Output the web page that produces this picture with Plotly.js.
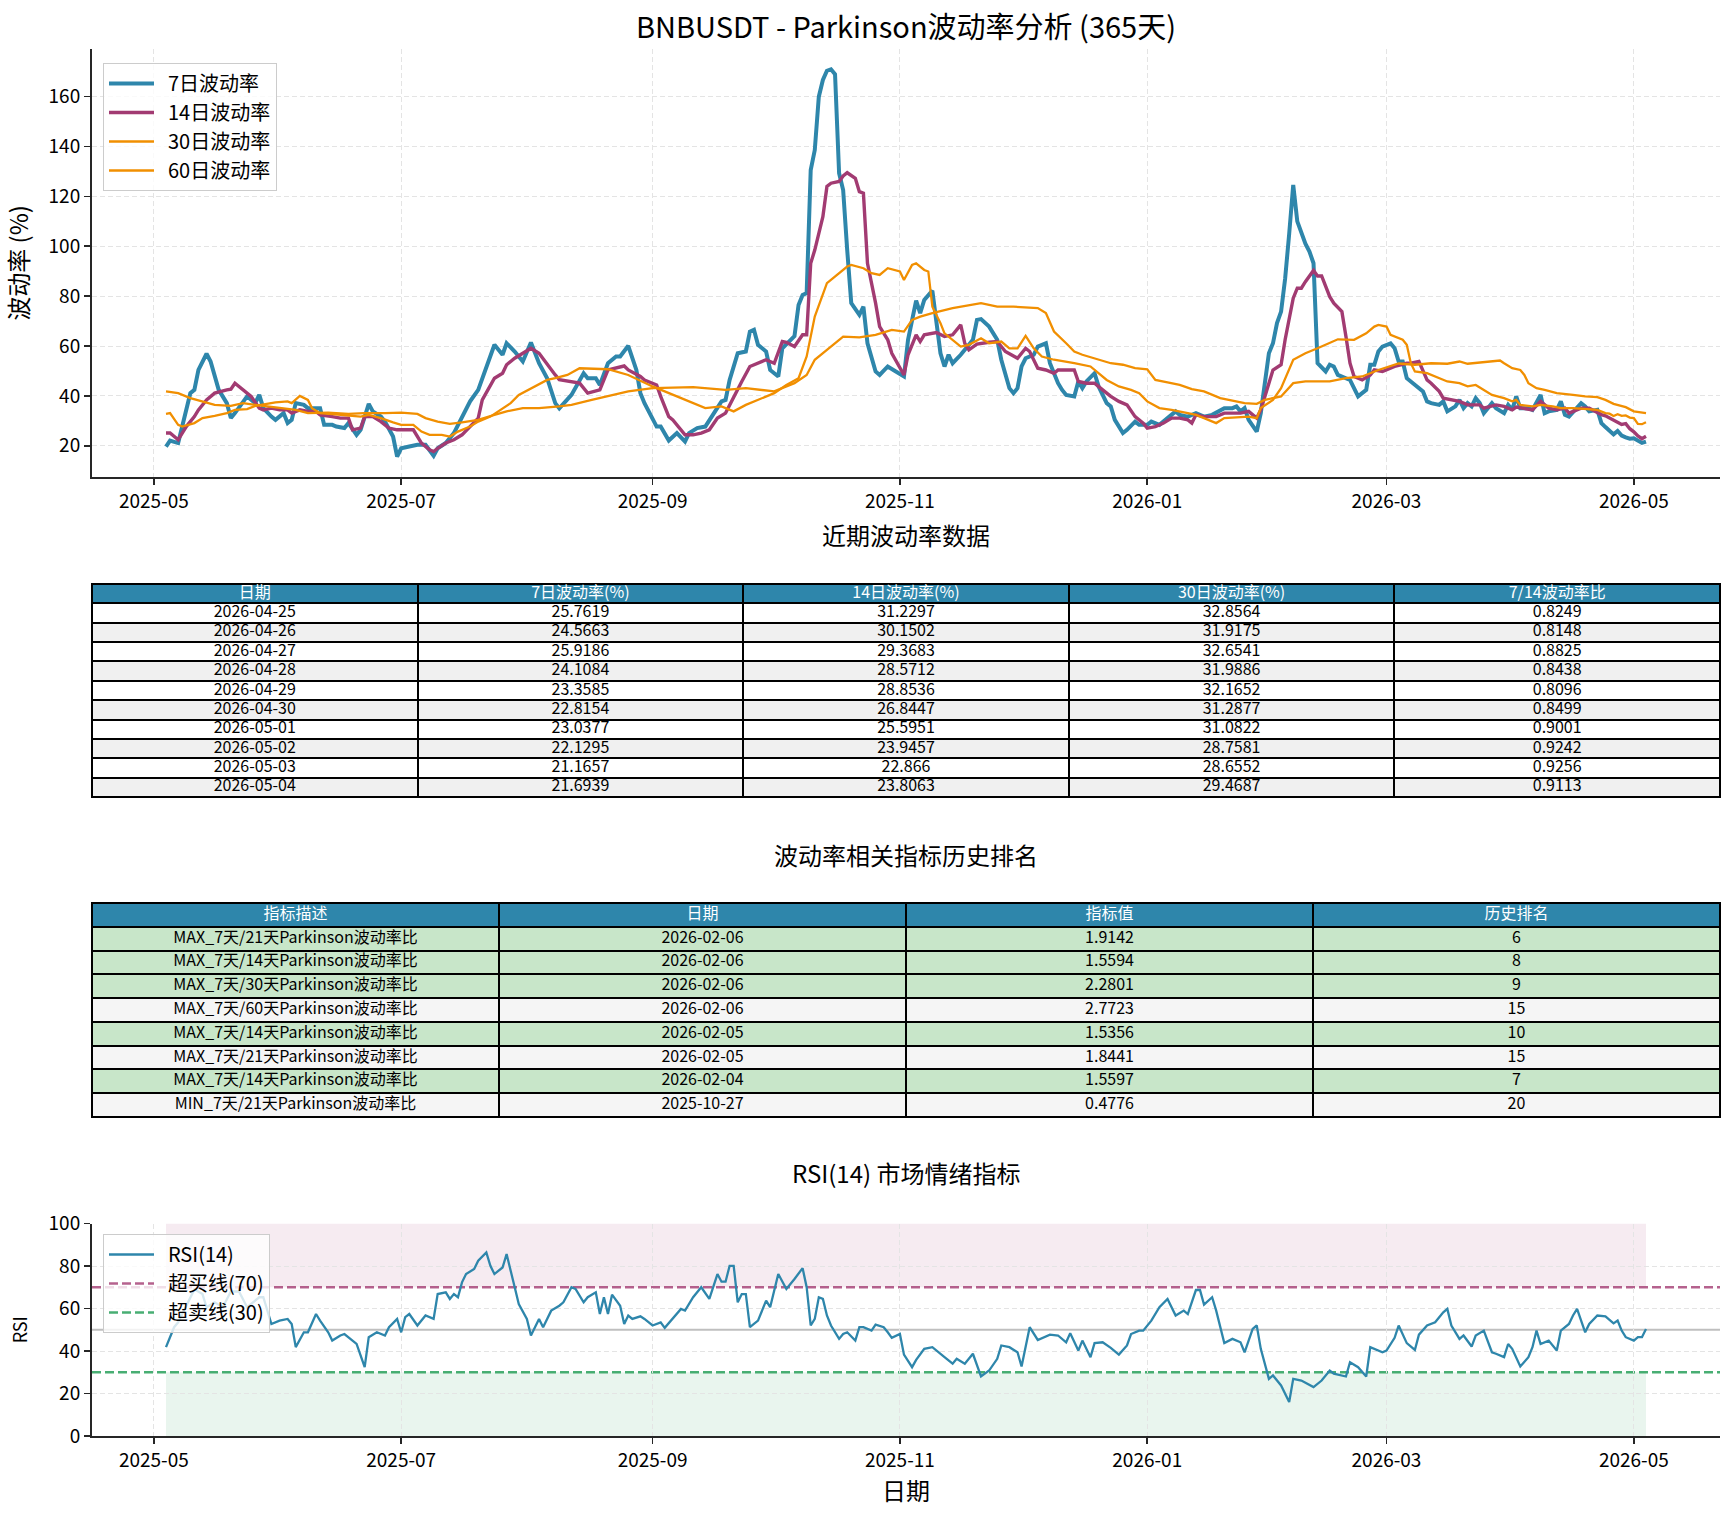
<!DOCTYPE html>
<html><head><meta charset="utf-8">
<script src="https://cdn.plot.ly/plotly-3.0.1.min.js"></script>
<style>html,body{margin:0;padding:0;background:#fff}#chart{width:1734px;height:1515px}</style>
</head><body><div id="chart"></div>
<script>
// ---------- data (day offsets are days after 2025-05-01) ----------
const vol7Day = [3,4,6,9,10,11,13,14,16,18,19,20,23,25,26,27,29,30,32,33,34,35,37,38,40,41,42,44,45,47,48,50,51,53,54,56,57,59,60,61,63,65,67,69,70,72,74,76,78,80,82,84,86,87,89,91,93,95,97,99,100,103,106,107,109,110,112,114,115,117,119,120,121,124,125,127,129,131,132,134,136,138,140,141,142,144,146,147,148,149,151,152,154,155,157,158,159,160,161,162,163,164,165,166,167,168,169,170,171,172,174,175,176,178,179,181,183,185,186,188,189,190,192,193,194,195,196,197,199,202,203,204,206,208,209,211,212,213,214,215,217,218,220,221,223,224,225,227,228,229,230,232,233,235,236,237,239,240,242,243,245,246,248,250,252,253,255,257,259,261,263,264,266,267,268,269,270,272,273,275,276,277,278,279,280,281,282,283,284,285,286,287,289,290,291,292,293,295,297,299,300,301,302,303,305,306,307,308,309,311,313,314,315,317,318,319,321,322,323,324,325,326,327,328,330,331,333,334,335,336,337,339,340,342,343,344,346,347,348,349,352,353,354,356,357,358,359,360,361,362,363,364,365,366,367,368];
const vol7Val = [19.7,22.1,21.1,41.1,42.4,50.4,56.9,53.8,42.4,37.1,31.1,33.1,39.8,37.1,40.4,35.1,31.7,30.4,33.1,29.1,30.4,37.1,36.4,35.1,35.1,35.1,28.4,28.4,27.7,27.1,29.1,24.4,26.4,36.8,33.8,31.7,29.7,23.7,15.7,19.0,19.7,20.4,20.4,16.0,19.0,21.1,25.1,31.1,37.8,42.4,51.8,60.5,56.5,61.1,57.8,53.8,61.4,53.1,47.1,37.1,35.0,40.4,49.1,47.1,47.1,44.4,53.1,55.8,55.8,60.1,50.4,41.1,37.1,27.7,27.7,22.1,25.1,21.7,25.1,27.1,27.7,33.1,37.8,38.4,46.4,57.1,57.8,65.8,66.5,60.5,57.8,50.4,47.8,59.1,62.5,64.0,76.5,80.5,81.2,130.6,138.6,160.0,166.7,170.4,171.0,169.0,129.3,122.6,98.5,77.2,72.5,75.8,61.1,49.8,48.4,51.8,49.8,47.8,62.5,78.2,73.2,78.5,82.2,69.2,57.1,51.8,56.5,53.1,56.5,62.5,70.5,70.8,67.8,62.5,54.5,43.1,41.1,43.1,51.8,55.1,56.5,59.8,61.1,53.1,45.1,42.4,40.4,39.8,45.8,43.1,45.8,49.1,43.8,37.1,35.8,30.4,25.1,26.4,29.7,28.4,28.4,29.7,28.4,31.1,33.8,32.4,31.7,33.1,31.7,32.4,34.4,35.1,35.1,35.8,33.8,35.1,30.4,25.7,33.1,57.1,61.1,69.2,73.8,87.0,105.0,124.6,110.0,105.0,101.0,97.9,93.2,53.1,49.8,52.5,51.8,48.4,47.8,46.4,39.8,42.4,52.5,52.5,57.8,59.8,61.1,59.1,53.8,53.8,47.1,44.4,41.8,37.8,37.1,36.4,37.8,33.8,35.8,38.4,35.1,37.1,35.8,39.1,37.1,33.1,37.1,35.1,33.1,36.4,34.4,39.8,35.1,35.1,34.4,40.4,33.1,33.8,34.4,37.8,32.4,31.7,37.1,35.8,33.8,34.4,29.1,27.5,25.7619,24.5663,25.9186,24.1084,23.3585,22.8154,23.0377,22.1295,21.1657,21.6939];

const vol14Day = [3,4,6,8,10,11,13,15,18,19,20,22,24,26,27,29,31,33,34,36,38,40,41,44,46,48,49,51,52,54,56,58,60,62,64,66,68,69,70,72,74,76,78,80,81,83,84,86,87,89,91,93,95,97,99,100,103,105,107,110,112,114,116,117,120,121,124,125,127,128,131,133,135,137,139,141,143,145,147,149,151,153,155,156,158,160,161,162,163,165,166,167,169,170,171,173,174,175,176,178,179,181,182,185,186,188,189,190,193,195,197,199,200,201,203,206,208,210,213,215,216,218,220,222,223,227,228,230,232,234,236,238,240,242,244,245,247,249,251,253,255,256,257,259,262,264,266,268,270,272,273,275,276,278,279,281,282,283,284,286,287,288,290,291,293,294,295,296,298,300,301,303,305,306,309,310,312,314,315,317,318,320,322,324,327,328,331,333,335,336,340,342,344,346,348,349,352,354,356,357,358,359,360,361,362,363,364,365,366,367,368];
const vol14Val = [25.1,25.1,22.4,27.7,31.7,34.4,38.4,41.1,42.4,42.7,45.1,42.4,39.8,35.1,34.4,35.1,34.4,34.4,33.1,34.4,33.8,33.8,32.4,31.7,31.1,31.1,26.4,27.1,31.7,31.7,29.7,27.1,26.4,26.4,26.4,21.1,18.4,17.7,19.0,21.1,22.4,24.4,27.7,31.1,38.4,43.8,47.1,49.1,52.5,55.1,57.1,59.1,57.1,52.5,48.4,46.5,45.8,45.1,41.1,42.4,50.4,51.1,52.0,50.4,47.8,46.4,44.4,39.8,31.7,30.4,24.4,24.4,25.1,26.4,31.1,33.1,39.8,45.8,51.8,53.1,54.5,53.1,61.8,61.5,59.8,64.5,64.5,93.2,98.5,111.9,124.0,125.3,126.0,128.2,129.5,127.3,121.9,121.3,93.2,77.2,67.8,62.5,57.1,48.4,56.5,64.5,61.8,64.5,65.4,63.8,64.5,68.5,61.1,58.5,60.8,61.5,61.8,57.8,55.1,59.1,57.8,51.1,50.4,49.1,50.4,50.4,45.8,45.1,45.1,42.4,39.8,37.8,36.4,31.7,29.1,27.1,27.7,29.1,31.1,31.1,30.4,29.1,32.4,31.7,31.7,33.1,33.1,33.1,33.8,31.1,34.4,45.1,50.4,52.5,62.5,79.2,83.2,83.2,85.8,90.3,88.1,88.1,79.8,77.2,73.8,63.8,53.1,47.8,46.4,48.4,50.4,49.8,51.1,51.8,53.1,53.1,53.8,46.4,45.1,41.8,39.1,38.4,37.8,36.4,36.4,35.1,36.4,35.8,34.4,35.5,34.4,37.8,35.1,34.4,35.1,33.1,35.1,35.1,33.1,32.5,32.0,31.2297,30.1502,29.3683,28.5712,28.8536,26.8447,25.5951,23.9457,22.866,23.8063];

const vol30Day = [3,4,6,7,10,12,15,18,20,23,25,28,30,33,34,36,38,39,41,44,48,51,53,56,59,61,64,66,68,71,73,75,78,80,83,85,88,90,93,97,99,102,105,112,117,123,129,136,140,143,146,149,153,156,159,161,163,166,168,171,172,175,177,179,181,184,185,187,188,190,191,192,194,195,199,201,204,206,209,211,213,215,217,219,222,225,227,231,232,235,238,241,243,245,248,251,255,257,259,262,264,268,270,272,273,276,278,281,284,287,290,292,296,299,301,302,304,305,308,309,310,311,314,317,319,322,324,326,328,330,333,335,336,337,340,342,345,347,350,353,356,358,359,360,361,362,363,364,365,366,367,368];
const vol30Val = [32.8,33.1,28.4,27.7,29.1,31.1,32.0,33.1,34.4,34.7,36.0,36.8,37.4,37.8,37.1,40.0,38.4,35.1,33.1,32.7,32.0,31.7,32.4,31.1,29.4,28.4,28.4,25.7,24.4,24.4,23.7,25.7,27.7,29.7,31.7,33.8,37.1,40.4,43.1,46.4,47.1,48.4,51.1,50.7,48.4,43.8,39.8,35.1,35.8,33.8,36.4,38.4,41.1,44.4,47.1,55.8,71.8,85.2,87.9,91.9,92.5,91.2,89.2,88.5,91.2,89.9,86.5,92.5,93.2,90.5,89.9,75.8,69.2,65.1,59.8,60.5,63.1,61.1,61.8,59.1,59.1,64.1,59.1,55.8,54.5,53.8,53.1,51.8,50.4,46.4,43.8,42.4,41.1,37.8,35.1,34.4,33.1,32.4,31.1,29.1,31.1,31.7,31.7,31.1,35.1,38.4,43.1,54.5,57.1,59.1,61.1,62.7,62.5,65.1,67.8,68.5,67.8,64.5,62.5,60.5,53.1,49.8,49.1,47.1,45.8,45.1,43.8,44.4,42.4,40.4,39.1,37.8,38.4,36.4,35.8,36.4,35.8,35.1,35.1,34.7,34.4,33.1,32.8564,31.9175,32.6541,31.9886,32.1652,31.2877,31.0822,28.7581,28.6552,29.4687];

const vol60Day = [3,6,9,12,15,19,22,25,29,32,35,38,43,48,52,57,61,65,67,70,73,76,80,84,87,91,95,100,103,108,117,123,133,141,146,153,158,161,163,166,170,174,178,182,185,187,189,192,197,204,208,212,218,220,222,225,227,229,232,236,239,242,245,247,250,253,256,259,263,266,269,272,274,278,281,284,290,294,298,302,307,311,315,319,322,324,327,330,332,333,335,337,338,339,341,343,346,350,353,356,358,360,363,365,368];
const vol60Val = [41.8,41.1,39.1,37.8,36.4,36.0,37.1,36.4,35.5,35.1,34.4,33.1,33.3,32.8,33.1,33.1,33.3,32.8,31.1,29.7,28.8,29.4,30.4,32.4,33.8,35.1,35.1,35.8,36.4,38.4,41.8,43.1,43.5,42.4,43.1,41.8,45.1,48.4,54.5,58.5,63.8,63.5,64.5,66.5,65.8,70.5,71.8,73.2,75.2,77.2,75.8,75.8,75.2,73.2,65.8,61.1,57.8,56.5,55.1,53.1,52.5,51.1,50.7,46.4,45.4,44.4,42.7,41.8,39.1,38.2,37.1,36.8,38.4,39.8,45.1,45.8,45.8,47.1,47.8,50.4,53.0,52.5,53.1,52.9,53.8,52.9,53.4,53.8,54.2,53.1,51.1,50.4,48.4,45.1,43.1,42.4,41.1,40.4,39.8,39.5,38.4,36.8,35.5,33.8,33.1];

const rsiDay = [3,5,6,9,10,12,13,15,17,19,21,23,26,27,29,31,33,34,35,37,38,40,41,43,44,46,47,49,50,52,53,55,57,58,60,61,62,63,65,67,69,70,72,73,74,75,76,77,79,80,82,83,84,86,87,89,90,92,93,95,96,98,100,101,103,104,106,107,109,110,111,112,113,115,116,117,118,120,121,123,125,126,128,130,131,133,135,137,139,140,141,142,143,144,145,146,147,149,151,152,154,156,158,160,161,162,163,164,165,166,167,169,170,171,173,174,175,177,178,180,181,182,184,185,187,188,190,192,195,197,198,200,202,204,206,208,209,211,213,214,216,218,221,223,225,226,228,229,231,232,234,236,238,240,241,243,244,246,248,250,252,254,255,257,258,259,261,262,264,266,268,269,271,272,273,275,276,278,280,281,283,286,288,290,291,294,295,297,299,300,303,304,306,307,309,311,312,314,316,318,319,320,322,323,325,326,328,330,331,333,334,335,337,339,340,341,342,344,346,347,349,350,351,353,354,356,358,360,361,362,363,365,366,367,368];
const rsiVal = [41.8,51.2,53.5,65.0,69.0,66.8,60.6,62.9,60.6,68.0,68.0,60.6,65.3,65.3,52.7,54.3,55.1,52.7,41.8,48.8,48.8,57.4,54.3,48.8,44.9,47.3,48.0,44.9,43.3,32.4,46.5,48.8,47.3,51.2,55.1,48.8,55.9,57.4,52.0,56.7,55.1,66.8,67.6,64.5,66.8,65.3,72.3,76.2,78.6,82.5,86.4,80.1,76.2,79.3,85.6,70.0,62.1,55.1,47.3,55.1,51.2,59.0,61.3,62.9,70.0,69.2,62.9,65.3,67.6,57.4,65.3,57.4,66.5,61.3,52.7,56.7,55.1,56.3,55.1,52.0,53.5,50.9,55.1,59.8,59.0,65.3,70.0,64.5,76.2,72.6,72.6,80.1,80.1,62.9,66.8,66.8,51.2,54.3,63.7,60.6,76.2,69.2,73.9,79.0,70.0,52.0,55.1,65.3,64.5,56.7,52.0,45.7,48.0,48.8,44.9,51.2,51.2,49.6,52.4,51.2,48.8,46.2,48.0,38.3,32.4,35.8,41.0,41.8,37.1,34.0,36.3,34.0,38.7,28.0,30.8,36.3,42.6,41.8,39.4,32.7,51.2,45.2,47.7,47.3,44.1,48.4,40.2,44.9,37.1,43.7,44.1,41.5,38.3,42.6,48.0,49.6,49.6,54.3,60.6,64.5,56.7,59.0,57.4,68.7,68.7,61.8,65.3,59.0,43.7,45.7,44.1,39.4,50.4,52.0,41.0,26.9,28.5,23.8,16.0,26.9,26.1,23.0,26.1,30.8,29.3,28.0,34.7,32.4,28.0,41.8,39.4,40.2,46.2,52.0,43.7,40.5,47.7,52.0,53.5,58.2,59.8,52.0,45.7,47.3,42.1,47.3,49.6,39.4,38.7,37.1,43.3,41.0,32.7,37.1,41.8,49.6,43.3,44.9,40.2,49.6,52.7,56.7,59.8,48.8,52.7,56.7,56.3,53.0,54.3,49.6,46.5,44.9,46.5,46.5,50.4];

// recent table
const recentDates = ['2026-04-25','2026-04-26','2026-04-27','2026-04-28','2026-04-29','2026-04-30','2026-05-01','2026-05-02','2026-05-03','2026-05-04'];
const recent7 = [25.7619,24.5663,25.9186,24.1084,23.3585,22.8154,23.0377,22.1295,21.1657,21.6939];
const recent14 = [31.2297,30.1502,29.3683,28.5712,28.8536,26.8447,25.5951,23.9457,22.866,23.8063];
const recent30 = [32.8564,31.9175,32.6541,31.9886,32.1652,31.2877,31.0822,28.7581,28.6552,29.4687];
const recentRatio = [0.8249,0.8148,0.8825,0.8438,0.8096,0.8499,0.9001,0.9242,0.9256,0.9113];
const recentHeaders = ['日期','7日波动率(%)','14日波动率(%)','30日波动率(%)','7/14波动率比'];

// ranking table
const rankDesc = ['MAX_7天/21天Parkinson波动率比','MAX_7天/14天Parkinson波动率比','MAX_7天/30天Parkinson波动率比','MAX_7天/60天Parkinson波动率比','MAX_7天/14天Parkinson波动率比','MAX_7天/21天Parkinson波动率比','MAX_7天/14天Parkinson波动率比','MIN_7天/21天Parkinson波动率比'];
const rankDate = ['2026-02-06','2026-02-06','2026-02-06','2026-02-06','2026-02-05','2026-02-05','2026-02-04','2025-10-27'];
const rankValue = [1.9142,1.5594,2.2801,2.7723,1.5356,1.8441,1.5597,0.4776];
const rankPos = [6,8,9,15,10,15,7,20];
const rankHeaders = ['指标描述','日期','指标值','历史排名'];

// ---------- helpers ----------
function toDate(d){ const t = new Date(Date.UTC(2025,4,1)); t.setUTCDate(t.getUTCDate()+d); return t.toISOString().slice(0,10); }
const FONT = 'Noto Sans CJK SC, Noto Sans, sans-serif';
const W = 1734, H = 1515;
const px = v => v / W, py = v => 1 - v / H;
const SP = '\u00a0\u00a0';

const C7 = '#2E86AB', C14 = '#A23B72', C30 = '#F18F01', C60 = '#F18F01';
const GREEN = 'rgba(40,160,90,0.85)';

const traces = [];
traces.push({type:'scatter', mode:'lines', name:SP+'7日波动率', legendgroup:'g7', x: vol7Day.map(toDate), y: vol7Val, line:{color:C7, width:4}, xaxis:'x', yaxis:'y'});
traces.push({type:'scatter', mode:'lines', name:SP+'14日波动率', legendgroup:'g14', x: vol14Day.map(toDate), y: vol14Val, line:{color:C14, width:3.4}, xaxis:'x', yaxis:'y'});
traces.push({type:'scatter', mode:'lines', name:SP+'30日波动率', legendgroup:'g30', x: vol30Day.map(toDate), y: vol30Val, line:{color:C30, width:2.3}, xaxis:'x', yaxis:'y'});
traces.push({type:'scatter', mode:'lines', name:SP+'60日波动率', legendgroup:'g60', x: vol60Day.map(toDate), y: vol60Val, line:{color:C60, width:2.3}, xaxis:'x', yaxis:'y'});

// RSI
traces.push({type:'scatter', mode:'lines', name:SP+'RSI(14)', legend:'legend2', legendgroup:'r1', x: rsiDay.map(toDate), y: rsiVal, line:{color:C7, width:2.3}, xaxis:'x2', yaxis:'y2'});
traces.push({type:'scatter', mode:'lines', name:SP+'超买线(70)', legend:'legend2', legendgroup:'r2', x:[null], y:[null], line:{color:'rgba(162,59,114,0.8)', width:2.6, dash:'9px,4px'}, xaxis:'x2', yaxis:'y2'});
traces.push({type:'scatter', mode:'lines', name:SP+'超卖线(30)', legend:'legend2', legendgroup:'r3', x:[null], y:[null], line:{color:GREEN, width:2.6, dash:'9px,4px'}, xaxis:'x2', yaxis:'y2'});

// ---------- tables via heatmap + text ----------
const colorscale = [[0,'#2E86AB'],[0.125,'#2E86AB'],[0.125,'#FFFFFF'],[0.375,'#FFFFFF'],[0.375,'#F0F0F0'],[0.625,'#F0F0F0'],[0.625,'#C8E6C9'],[0.875,'#C8E6C9'],[0.875,'#F5F5F5'],[1,'#F5F5F5']];
function tableTraces(columns, headers, rowColorCode, xa, ya, fsize){
  const nCol = headers.length, nRow = columns[0].length + 1;
  const z = [], tx = [], ty = [], tt = [], tc = [];
  for (let r = 0; r < nRow; r++){
    const zr = [];
    for (let c = 0; c < nCol; c++){
      zr.push(r === 0 ? 0 : rowColorCode[r-1]);
      tx.push(c); ty.push(r);
      tt.push(r === 0 ? headers[c] : String(columns[c][r-1]));
      tc.push(r === 0 ? '#FFFFFF' : '#000000');
    }
    z.push(zr);
  }
  return [
    {type:'heatmap', z:z, x:[...Array(nCol).keys()], y:[...Array(nRow).keys()], colorscale:colorscale, zmin:0, zmax:4, showscale:false, xgap:2, ygap:2, hoverinfo:'skip', xaxis:xa, yaxis:ya},
    {type:'scatter', mode:'text', x:tx, y:ty, text:tt, textposition:'middle center', textfont:{family:FONT, size:fsize, color:tc}, showlegend:false, hoverinfo:'skip', xaxis:xa, yaxis:ya}
  ];
}
const recentColors = recentDates.map((_, i) => i % 2 === 0 ? 1 : 2);
traces.push(...tableTraces([recentDates, recent7, recent14, recent30, recentRatio], recentHeaders, recentColors, 'x3', 'y3', 16));
const rankColors = rankPos.map(p => p <= 10 ? 3 : 4);
traces.push(...tableTraces([rankDesc, rankDate, rankValue, rankPos], rankHeaders, rankColors, 'x4', 'y4', 16));

// ---------- layout ----------
const xRange = ['2025-04-15 18:00', '2026-05-22 06:00'];
const dom = [px(92), px(1720)];
const baseX = {type:'date', range:xRange, domain:dom, tickformat:'%Y-%m', dtick:'M2', tick0:'2025-05-01',
  showline:true, linecolor:'#262626', linewidth:2, ticks:'outside', ticklen:6, tickwidth:1.6, tickcolor:'#262626',
  showgrid:true, gridcolor:'#E4E4E4', griddash:'5px,3px', gridwidth:1, zeroline:false,
  tickfont:{family:FONT, size:19, color:'#000'}};
const baseY = {showline:true, linecolor:'#262626', linewidth:2, ticks:'outside', ticklen:6, tickwidth:1.6, tickcolor:'#262626',
  showgrid:true, gridcolor:'#E4E4E4', griddash:'5px,3px', gridwidth:1, zeroline:false,
  tickfont:{family:FONT, size:19, color:'#000'}};
const hidden = {visible:false, fixedrange:true};

const rsiX0 = toDate(rsiDay[0]), rsiX1 = toDate(rsiDay[rsiDay.length-1]);
const layout = {
  width:W, height:H, autosize:false, margin:{l:0,r:0,t:0,b:0}, paper_bgcolor:'#fff', plot_bgcolor:'#fff',
  font:{family:FONT, color:'#000'}, showlegend:true, hovermode:false,
  title:{text:'BNBUSDT - Parkinson波动率分析 (365天)', x:px(906), y:py(28), xanchor:'center', yanchor:'middle', font:{family:FONT, size:29, color:'#000'}},
  xaxis:Object.assign({}, baseX, {anchor:'y'}),
  yaxis:Object.assign({}, baseY, {domain:[py(476.7), py(49.3)], range:[7.6, 179], dtick:20, tick0:0, anchor:'x',
    title:{text:'波动率 (%)', font:{family:FONT, size:24, color:'#000'}, standoff:14}}),
  xaxis2:Object.assign({}, baseX, {anchor:'y2', title:{text:'日期', font:{family:FONT, size:24, color:'#000'}, standoff:8}}),
  yaxis2:Object.assign({}, baseY, {domain:[py(1436), py(1223.5)], range:[0,100], dtick:20, tick0:0, anchor:'x2',
    title:{text:'RSI', font:{family:FONT, size:18, color:'#000'}, standoff:16}}),
  xaxis3:Object.assign({}, hidden, {domain:dom, range:[-0.5, 4.5], anchor:'y3'}),
  yaxis3:Object.assign({}, hidden, {domain:[py(797), py(584)], range:[10.5, -0.5], anchor:'x3'}),
  xaxis4:Object.assign({}, hidden, {domain:dom, range:[-0.5, 3.5], anchor:'y4'}),
  yaxis4:Object.assign({}, hidden, {domain:[py(1117), py(903)], range:[8.5, -0.5], anchor:'x4'}),
  legend:{x:px(103), y:py(63), xanchor:'left', yanchor:'top', bgcolor:'rgba(255,255,255,0.8)', bordercolor:'#CCCCCC', borderwidth:1,
    font:{family:FONT, size:20, color:'#000'}, itemwidth:45, tracegroupgap:4, traceorder:'normal'},
  legend2:{x:px(103), y:py(1234), xanchor:'left', yanchor:'top', bgcolor:'rgba(255,255,255,0.8)', bordercolor:'#CCCCCC', borderwidth:1,
    font:{family:FONT, size:20, color:'#000'}, itemwidth:45, tracegroupgap:4, traceorder:'normal'},
  annotations:[
    {text:'近期波动率数据', xref:'paper', yref:'paper', x:px(906), y:py(534), xanchor:'center', yanchor:'middle', showarrow:false, font:{family:FONT, size:24, color:'#000'}},
    {text:'波动率相关指标历史排名', xref:'paper', yref:'paper', x:px(906), y:py(854), xanchor:'center', yanchor:'middle', showarrow:false, font:{family:FONT, size:24, color:'#000'}},
    {text:'RSI(14) 市场情绪指标', xref:'paper', yref:'paper', x:px(906), y:py(1172), xanchor:'center', yanchor:'middle', showarrow:false, font:{family:FONT, size:24, color:'#000'}}
  ],
  shapes:[
    {type:'rect', xref:'x2', yref:'y2', x0:rsiX0, x1:rsiX1, y0:70, y1:100, fillcolor:'rgba(162,59,114,0.1)', line:{width:0}, layer:'below'},
    {type:'rect', xref:'x2', yref:'y2', x0:rsiX0, x1:rsiX1, y0:0, y1:30, fillcolor:'rgba(40,160,90,0.1)', line:{width:0}, layer:'below'},
    {type:'line', xref:'x2 domain', yref:'y2', x0:0, x1:1, y0:50, y1:50, line:{color:'rgba(128,128,128,0.5)', width:2.2}, layer:'below'},
    {type:'line', xref:'x2 domain', yref:'y2', x0:0, x1:1, y0:70, y1:70, line:{color:'rgba(162,59,114,0.8)', width:2.6, dash:'9px,4px'}, layer:'below'},
    {type:'line', xref:'x2 domain', yref:'y2', x0:0, x1:1, y0:30, y1:30, line:{color:GREEN, width:2.6, dash:'9px,4px'}, layer:'below'},
    {type:'rect', xref:'x3 domain', yref:'y3 domain', x0:0, x1:1, y0:0, y1:1, fillcolor:'#000', line:{color:'#000', width:2}, layer:'below'},
    {type:'rect', xref:'x4 domain', yref:'y4 domain', x0:0, x1:1, y0:0, y1:1, fillcolor:'#000', line:{color:'#000', width:2}, layer:'below'}
  ]
};
Plotly.newPlot('chart', traces, layout, {staticPlot:true, displayModeBar:false});
</script></body></html>
